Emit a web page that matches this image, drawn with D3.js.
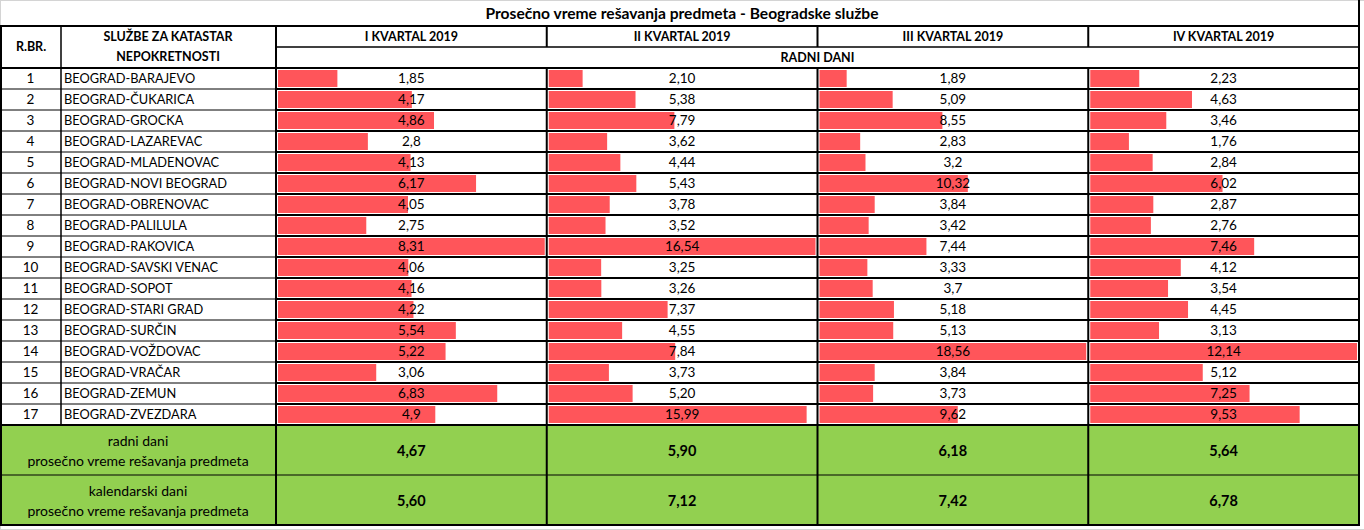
<!DOCTYPE html>
<html lang="sr">
<head>
<meta charset="UTF-8">
<title>Prosečno vreme rešavanja predmeta</title>
<script src="https://d3js.org/d3.v7.min.js"></script>
<style>
    body { margin: 0; background: #fff; }
    svg text { font-family: Lato, "Open Sans", sans-serif; fill: #000; }
    .b { font-weight: bold; }
</style>
</head>
<body>
<svg id="tbl" width="1364" height="530"></svg>
<script>
const rbr = d3.range(1, 18);
const sluzbe = ["BEOGRAD-BARAJEVO", "BEOGRAD-ČUKARICA", "BEOGRAD-GROCKA", "BEOGRAD-LAZAREVAC",
    "BEOGRAD-MLADENOVAC", "BEOGRAD-NOVI BEOGRAD", "BEOGRAD-OBRENOVAC", "BEOGRAD-PALILULA",
    "BEOGRAD-RAKOVICA", "BEOGRAD-SAVSKI VENAC", "BEOGRAD-SOPOT", "BEOGRAD-STARI GRAD",
    "BEOGRAD-SURČIN", "BEOGRAD-VOŽDOVAC", "BEOGRAD-VRAČAR", "BEOGRAD-ZEMUN", "BEOGRAD-ZVEZDARA"];
const kvartali = ["I KVARTAL 2019", "II KVARTAL 2019", "III KVARTAL 2019", "IV KVARTAL 2019"];
const q1 = [1.85, 4.17, 4.86, 2.8, 4.13, 6.17, 4.05, 2.75, 8.31, 4.06, 4.16, 4.22, 5.54, 5.22, 3.06, 6.83, 4.9];
const q2 = [2.10, 5.38, 7.79, 3.62, 4.44, 5.43, 3.78, 3.52, 16.54, 3.25, 3.26, 7.37, 4.55, 7.84, 3.73, 5.20, 15.99];
const q3 = [1.89, 5.09, 8.55, 2.83, 3.2, 10.32, 3.84, 3.42, 7.44, 3.33, 3.7, 5.18, 5.13, 18.56, 3.84, 3.73, 9.62];
const q4 = [2.23, 4.63, 3.46, 1.76, 2.84, 6.02, 2.87, 2.76, 7.46, 4.12, 3.54, 4.45, 3.13, 12.14, 5.12, 7.25, 9.53];
const radniProsek = [4.67, 5.90, 6.18, 5.64];
const kalendarskiProsek = [5.60, 7.12, 7.42, 6.78];
// II kvartal is shown with two decimals, others in "general" format
const fiksnoDecimala = [false, true, false, false];

const quarters = [q1, q2, q3, q4];

const svg = d3.select("#tbl");
const W = 1364;
const red = "#ff555a", green = "#92d050";

const colNo = [0, 61], colName = [61, 276];
const xq = d3.scaleBand().domain(kvartali).range([276, 1359]);
const yRow = d3.scaleBand().domain(rbr).range([68, 425]);
const sumRows = [[425, 475], [475, 525]];

const fmt = (v, fixed) => (fixed ? v.toFixed(2) : String(v)).replace(".", ",");

// light frame of the sheet
svg.append("rect").attr("x", 0.5).attr("y", 0.5).attr("width", W).attr("height", 529)
    .attr("fill", "none").attr("stroke", "#d4d4d4");

// green summary background
svg.append("rect").attr("x", 0).attr("y", 425).attr("width", 1359).attr("height", 100).attr("fill", green);

// data bars
const bars = svg.append("g");
quarters.forEach((vals, qi) => {
    const x0 = xq(kvartali[qi]);
    const x = d3.scaleLinear().domain([0, d3.max(vals)]).range([x0 + 2, x0 + xq.bandwidth() - 2]);
    bars.selectAll(null).data(vals).join("rect")
        .attr("x", x(0))
        .attr("y", (d, i) => yRow(rbr[i]) + 2)
        .attr("width", d => x(d) - x(0))
        .attr("height", yRow.bandwidth() - 4)
        .attr("fill", red);
    bars.selectAll(null).data(vals).join("text")
        .attr("x", x0 + xq.bandwidth() / 2)
        .attr("y", (d, i) => yRow(rbr[i]) + yRow.bandwidth() / 2)
        .attr("dy", "0.35em")
        .attr("text-anchor", "middle")
        .attr("font-size", 13.5)
        .text(d => fmt(d, fiksnoDecimala[qi]));
});

// row numbers and names
const rows = svg.append("g");
rows.selectAll(null).data(rbr).join("text")
    .attr("x", (colNo[0] + colNo[1]) / 2).attr("y", d => yRow(d) + yRow.bandwidth() / 2)
    .attr("dy", "0.35em").attr("text-anchor", "middle").attr("font-size", 13.5)
    .text(d => d);
rows.selectAll(null).data(sluzbe).join("text")
    .attr("x", colName[0] + 3).attr("y", (d, i) => yRow(rbr[i]) + yRow.bandwidth() / 2)
    .attr("dy", "0.35em").attr("font-size", 12.8)
    .text(d => d);

// headers
svg.append("text").attr("class", "b").attr("x", 682).attr("y", 14).attr("dy", "0.35em")
    .attr("text-anchor", "middle").attr("font-size", 15.6).text("Prosečno vreme rešavanja predmeta - Beogradske službe");
svg.append("text").attr("class", "b").attr("x", 31).attr("y", 47).attr("dy", "0.35em")
    .attr("text-anchor", "middle").attr("font-size", 12.5).text("R.BR.");
svg.append("text").attr("class", "b").attr("x", 168).attr("y", 37).attr("dy", "0.35em")
    .attr("text-anchor", "middle").attr("font-size", 12.5).text("SLUŽBE ZA KATASTAR");
svg.append("text").attr("class", "b").attr("x", 168).attr("y", 57).attr("dy", "0.35em")
    .attr("text-anchor", "middle").attr("font-size", 12.5).text("NEPOKRETNOSTI");
svg.selectAll(null).data(kvartali).join("text").attr("class", "b")
    .attr("x", d => xq(d) + xq.bandwidth() / 2).attr("y", 37).attr("dy", "0.35em")
    .attr("text-anchor", "middle").attr("font-size", 12.5).text(d => d);
svg.append("text").attr("class", "b").attr("x", (276 + 1359) / 2).attr("y", 58).attr("dy", "0.35em")
    .attr("text-anchor", "middle").attr("font-size", 12.5).text("RADNI DANI");

// summary rows
const sumLabels = [["radni dani", "prosečno vreme rešavanja predmeta"],
                   ["kalendarski dani", "prosečno vreme rešavanja predmeta"]];
[radniProsek, kalendarskiProsek].forEach((vals, si) => {
    const [t, b] = sumRows[si];
    svg.append("text").attr("x", 138).attr("y", t + 16).attr("dy", "0.35em")
        .attr("text-anchor", "middle").attr("font-size", 14).text(sumLabels[si][0]);
    svg.append("text").attr("x", 138).attr("y", t + 36).attr("dy", "0.35em")
        .attr("text-anchor", "middle").attr("font-size", 14).text(sumLabels[si][1]);
    svg.selectAll(null).data(vals).join("text").attr("class", "b")
        .attr("x", (d, i) => xq(kvartali[i]) + xq.bandwidth() / 2).attr("y", (t + b) / 2 + 1)
        .attr("dy", "0.35em").attr("text-anchor", "middle").attr("font-size", 14.5)
        .text(d => fmt(d, true));
});

// grid lines
const grid = svg.append("g").attr("stroke", "#000").attr("fill", "none");
const hline = (x1, x2, y, w) => grid.append("line").attr("x1", x1).attr("x2", x2).attr("y1", y).attr("y2", y).attr("stroke-width", w);
const vline = (x, y1, y2, w) => grid.append("line").attr("x1", x).attr("x2", x).attr("y1", y1).attr("y2", y2).attr("stroke-width", w);

hline(0, 1360, 26, 2);
hline(276, 1360, 47, 1.5);
hline(0, 1360, 68, 2);
rbr.slice(0, -1).forEach(r => {
    const y = yRow(r) + yRow.bandwidth();
    hline(0, 276, y, 1);
    hline(276, 1360, y, 2);
});
hline(0, 1360, 425, 2);
hline(0, 1360, 475, 1);
hline(0, 1360, 525, 2);

vline(1, 26, 526, 2);
vline(61, 26, 425, 1.5);
vline(276, 26, 526, 2);
kvartali.slice(1).forEach(k => vline(xq(k), 26, 47, 2));
kvartali.slice(1).forEach(k => vline(xq(k), 68, 526, 2));
vline(1359, 0, 526, 2);
</script>
</body>
</html>
